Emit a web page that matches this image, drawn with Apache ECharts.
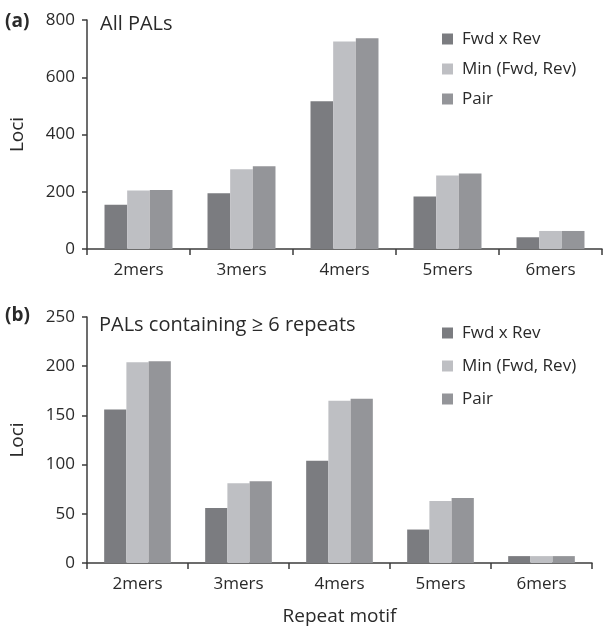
<!DOCTYPE html>
<html>
<head>
<meta charset="utf-8">
<title>PAL loci by repeat motif</title>
<script src="https://cdn.jsdelivr.net/npm/echarts@6/dist/echarts.min.js"></script>
<style>
  html, body { margin: 0; padding: 0; background: #fff; }
  #chart { width: 603px; height: 627px; }
</style>
</head>
<body>
<div id="chart"></div>
<script>
// Repeat motif categories
const categories = ['2mers', '3mers', '4mers', '5mers', '6mers'];
const seriesNames = ['Fwd x Rev', 'Min (Fwd, Rev)', 'Pair'];

// Panel (a): all PALs
const allFwdRev = [155, 195, 516, 183, 41];
const allMin    = [204, 279, 725, 257, 63];
const allPair   = [206, 289, 736, 264, 63];

// Panel (b): PALs containing >= 6 repeats
const rep6FwdRev = [156, 56, 104, 34, 7];
const rep6Min    = [204, 81, 165, 63, 7];
const rep6Pair   = [205, 83, 167, 66, 7];

// Y-axis tick settings
const yTicksA = { min: 0, max: 800, interval: 200 };
const yTicksB = { min: 0, max: 250, interval: 50 };

const colors = ['#7b7c80', '#bebfc3', '#949599'];
const textColor = '#2a2a2a';
const axisColor = '#3c3c3c';
const font = '"Open Sans", "Noto Sans", sans-serif';

const chart = echarts.init(document.getElementById('chart'), null, { renderer: 'canvas' });

function xAxis(gridIndex, withName) {
  return {
    type: 'category',
    gridIndex,
    data: categories,
    boundaryGap: true,
    axisLine: { show: true, lineStyle: { color: axisColor, width: 1.5 } },
    axisTick: { show: true, alignWithLabel: false, length: 6, lineStyle: { color: axisColor, width: 1.5 } },
    axisLabel: { color: textColor, fontFamily: font, fontSize: 17, margin: 13 },
    name: withName ? 'Repeat motif' : '',
    nameLocation: 'middle',
    nameGap: 44,
    nameTextStyle: { color: textColor, fontFamily: font, fontSize: 19 }
  };
}

function yAxis(gridIndex, ticks) {
  return {
    type: 'value',
    gridIndex,
    min: ticks.min,
    max: ticks.max,
    interval: ticks.interval,
    splitLine: { show: false },
    axisLine: { show: true, lineStyle: { color: axisColor, width: 1.5 } },
    axisTick: { show: true, inside: false, length: 5, lineStyle: { color: axisColor, width: 1.5 } },
    axisLabel: { color: textColor, fontFamily: font, fontSize: 17, margin: 12 },
    name: 'Loci',
    nameLocation: 'middle',
    nameRotate: 90,
    nameGap: 60,
    nameTextStyle: { color: textColor, fontFamily: font, fontSize: 19 }
  };
}

function bars(values, name, idx, axisIndex) {
  return {
    type: 'bar',
    name,
    xAxisIndex: axisIndex,
    yAxisIndex: axisIndex,
    data: values,
    barGap: '0%',
    barCategoryGap: '34%',
    itemStyle: { color: colors[idx] },
    emphasis: { disabled: true }
  };
}

function legend(top, gap) {
  return {
    orient: 'vertical',
    left: 437,
    top,
    icon: 'rect',
    itemWidth: 11,
    itemHeight: 11,
    itemGap: gap,
    data: seriesNames,
    selectedMode: false,
    textStyle: { color: textColor, fontFamily: font, fontSize: 17, lineHeight: 20, padding: [0, 0, 0, 4] }
  };
}

function label(text, x, y, size, bold) {
  return {
    type: 'text',
    left: x,
    top: y - size * 0.65,
    style: {
      text,
      fill: textColor,
      font: (bold ? 'bold ' : '') + size + 'px ' + font
    }
  };
}

chart.setOption({
  animation: false,
  grid: [
    { left: 86, top: 20, width: 516, height: 229, containLabel: false },
    { left: 86, top: 317, width: 506, height: 248, containLabel: false }
  ],
  xAxis: [xAxis(0, false), xAxis(1, true)],
  yAxis: [yAxis(0, yTicksA), yAxis(1, yTicksB)],
  legend: [legend(24, 10), legend(318, 13)],
  series: [
    bars(allFwdRev, seriesNames[0], 0, 0),
    bars(allMin, seriesNames[1], 1, 0),
    bars(allPair, seriesNames[2], 2, 0),
    bars(rep6FwdRev, seriesNames[0], 0, 1),
    bars(rep6Min, seriesNames[1], 1, 1),
    bars(rep6Pair, seriesNames[2], 2, 1)
  ],
  graphic: [
    label('(a)', 5, 24, 19, true),
    label('All PALs', 100, 27, 20, false),
    label('(b)', 5, 318, 19, true),
    label('PALs containing \u2265 6 repeats', 99, 328, 20, false)
  ]
});
</script>
</body>
</html>
